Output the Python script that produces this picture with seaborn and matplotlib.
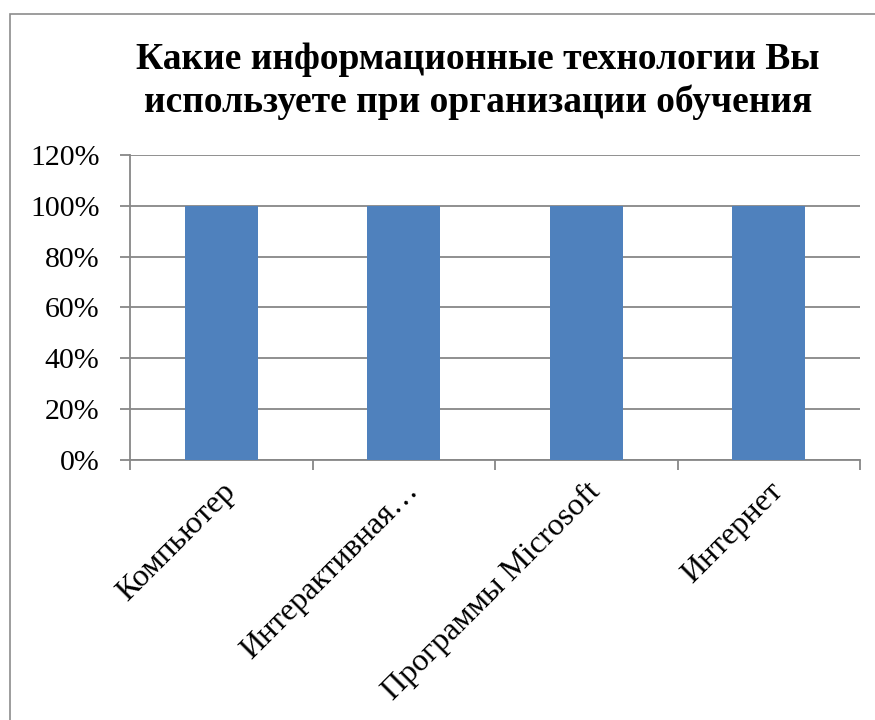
import matplotlib
matplotlib.use("Agg")
import matplotlib.pyplot as plt
import matplotlib.patches as mpatches
from matplotlib.ticker import PercentFormatter, FixedLocator
import seaborn as sns
import pandas as pd

# Data
categories = ["Компьютер", "Интерактивная…", "Программы Microsoft", "Интернет"]
values = [1.0, 1.0, 1.0, 1.0]
y_ticks = [0, 0.2, 0.4, 0.6, 0.8, 1.0, 1.2]

df = pd.DataFrame({"category": categories, "value": values})

sns.set_theme(style="white")
plt.rcParams['font.family'] = ['Liberation Serif', 'DejaVu Serif']
plt.rcParams['text.color'] = 'black'
plt.rcParams['xtick.color'] = 'black'
plt.rcParams['ytick.color'] = 'black'

fig = plt.figure(figsize=(8.75, 7.2), dpi=100)
ax = fig.add_axes([130 / 875, 1 - 460 / 720, 730 / 875, 305 / 720])

sns.barplot(data=df, x="category", y="value", color="#4F81BD", width=0.4,
            saturation=1, linewidth=0, ax=ax, zorder=3)

grid_col = "#878787"
ax.set_ylim(0, 1.2)
ax.set_xlim(-0.5, len(categories) - 0.5)
ax.set_yticks(y_ticks)
ax.yaxis.set_major_formatter(PercentFormatter(1.0, decimals=0))
ax.grid(axis="y", color=grid_col, linewidth=1.3, zorder=0)
ax.set_axisbelow(True)

# ticks between categories
ax.xaxis.set_minor_locator(FixedLocator([i - 0.5 for i in range(len(categories) + 1)]))
ax.tick_params(axis="x", which="major", length=0, pad=12)
ax.tick_params(axis="x", which="minor", length=7, width=1.3, color=grid_col, direction="out")
ax.tick_params(axis="y", length=7, width=1.3, color=grid_col, direction="out",
               labelsize=21.5, pad=15, labelcolor="black")
ax.tick_params(axis="both", which="both", bottom=True, left=True)
ax.set_xticks(range(len(categories)))
ax.set_xticklabels(categories, rotation=45, ha="right", rotation_mode="anchor",
                   fontsize=23, color="black")

for s in ["top", "right"]:
    ax.spines[s].set_visible(False)
for s in ["left", "bottom"]:
    ax.spines[s].set_color(grid_col)
    ax.spines[s].set_linewidth(1.3)

ax.set_xlabel("")
ax.set_ylabel("")

fig.text(478 / 875, 1 - 81 / 720,
         "Какие информационные технологии Вы\nиспользуете при организации обучения",
         ha="center", va="center", fontsize=27, fontweight="bold", linespacing=1.3,
         color="black")

# chart frame
fig.patches.append(mpatches.Rectangle((10 / 875, -0.1), 1.1, 1.1 - 14 / 720,
                                      transform=fig.transFigure, fill=False,
                                      edgecolor="#8c8c8c", linewidth=1.2))

fig.savefig("out.png", dpi=100)
